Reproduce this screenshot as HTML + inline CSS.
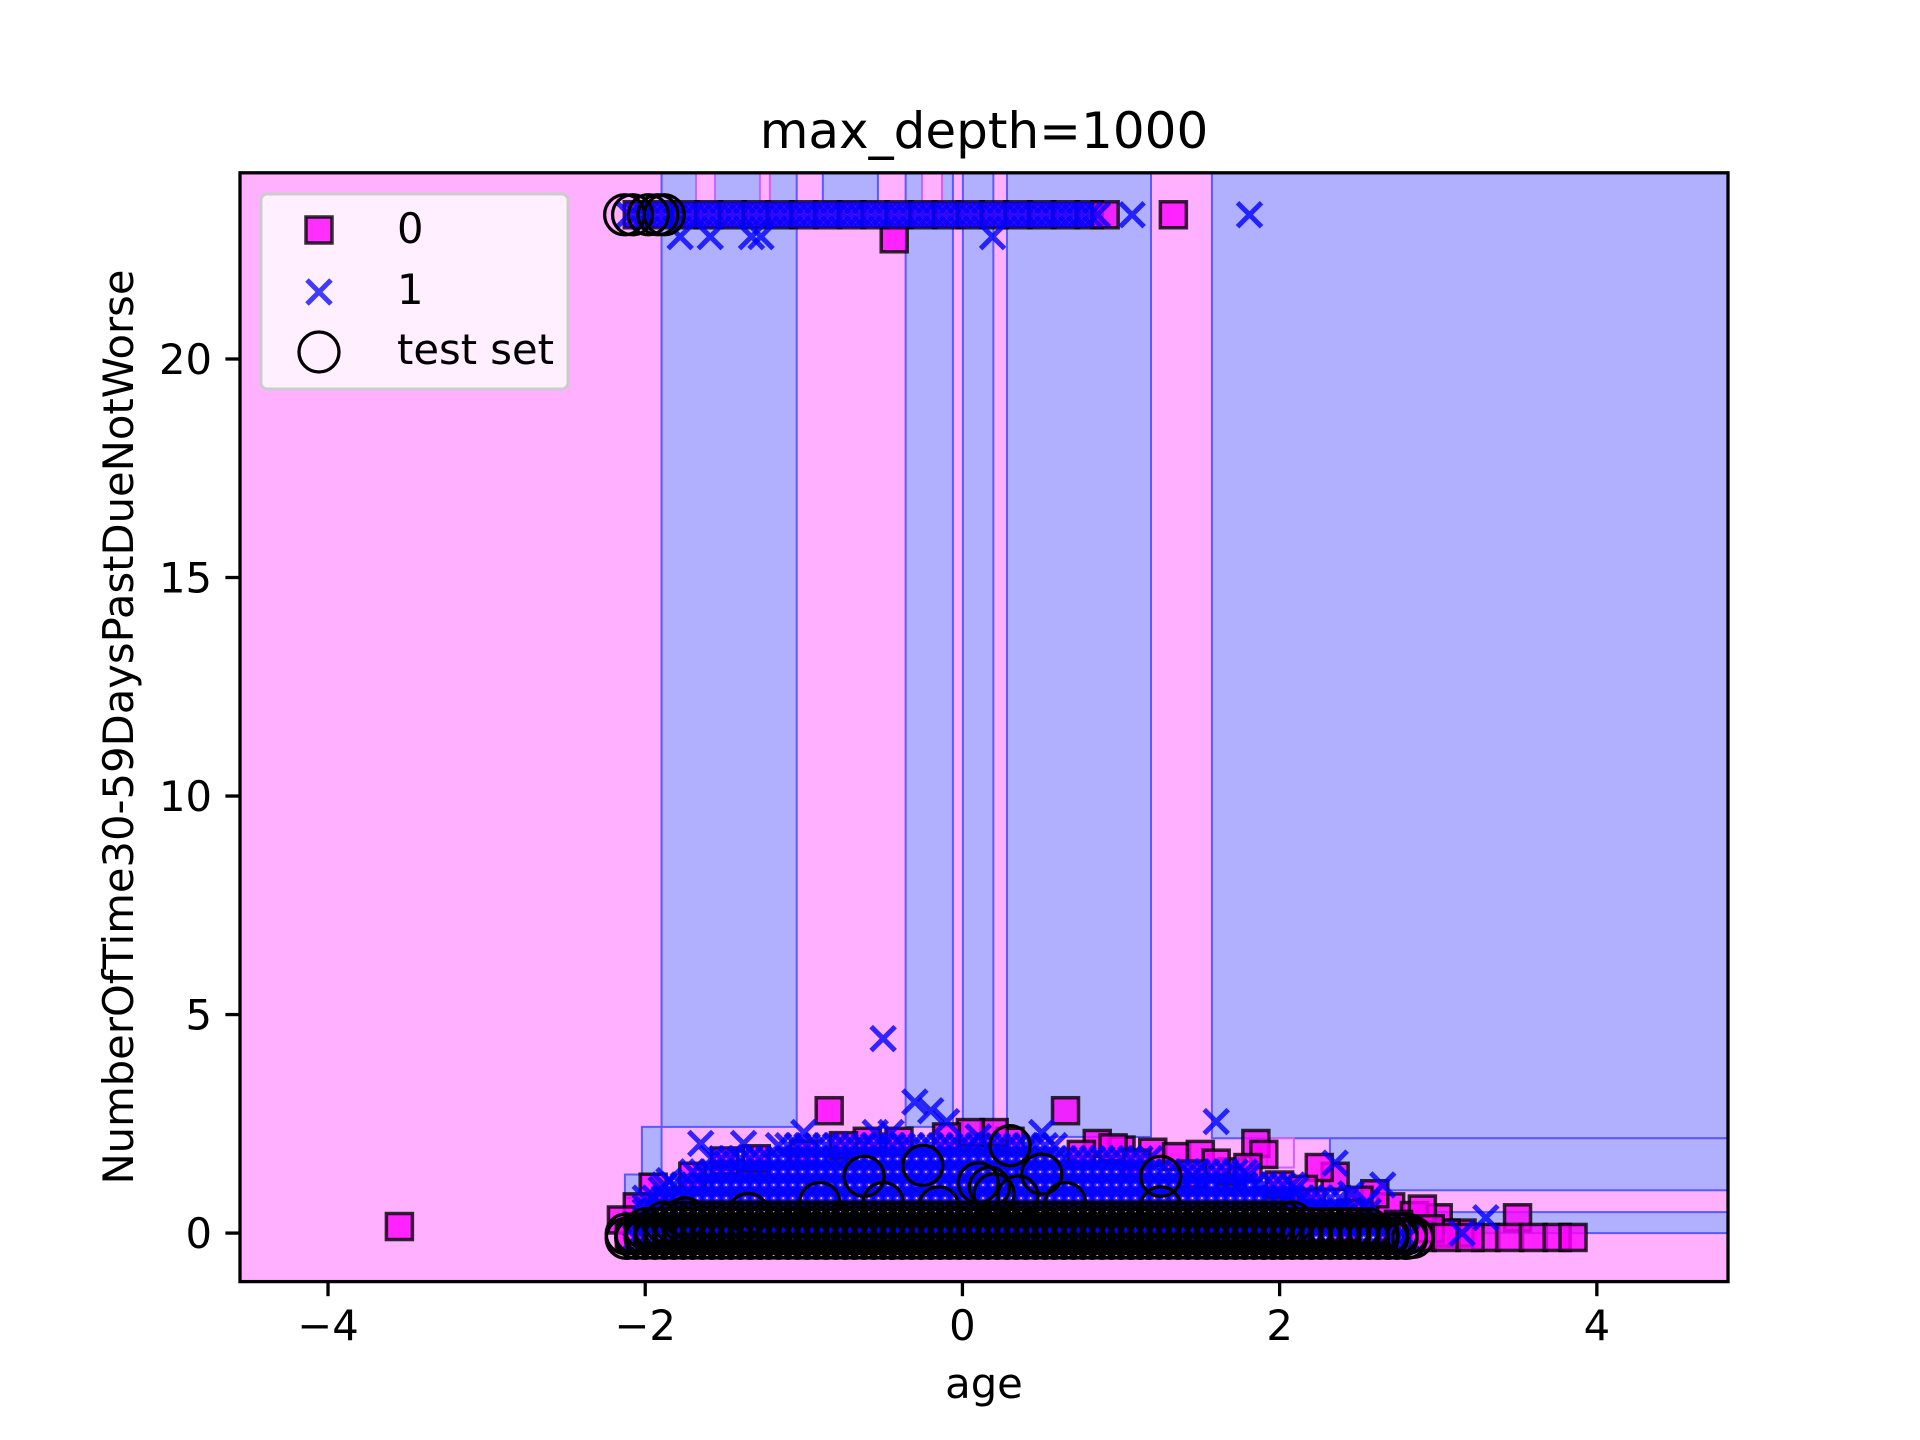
<!DOCTYPE html>
<html><head><meta charset="utf-8"><style>
html,body{margin:0;padding:0;background:#fff;}
svg{display:block;font-family:"DejaVu Sans","Liberation Sans",sans-serif;}
</style></head><body>
<svg id="chart" width="1920" height="1440" viewBox="0 0 1920 1440" xmlns="http://www.w3.org/2000/svg">
<defs><clipPath id="axclip"><rect x="240" y="172.8" width="1488" height="1108.8"/></clipPath></defs>
<rect width="1920" height="1440" fill="#fff"/>
<text x="984" y="148" text-anchor="middle" font-size="50" fill="#000">max_depth=1000</text>
<g id="plot" clip-path="url(#axclip)"></g>
<rect x="240" y="172.8" width="1488" height="1108.8" fill="none" stroke="#000" stroke-width="3.3"/>
<g id="ticks"></g>
<text x="984" y="1398" text-anchor="middle" font-size="41.7" fill="#000">age</text>
<text transform="translate(133,727) rotate(-90)" text-anchor="middle" font-size="41.7" fill="#000">NumberOfTime30-59DaysPastDueNotWorse</text>
<g>
<rect x="261" y="194" width="307" height="195" rx="6" fill="#fff" fill-opacity="0.8" stroke="#ccc" stroke-width="3"/>
<rect x="306" y="217" width="26" height="26" fill="#ff00ff" fill-opacity="0.8" stroke="#000" stroke-opacity="0.8" stroke-width="3.5"/>
<text x="397" y="243" font-size="41.7" fill="#000">0</text>
<path d="M307,280 L331,304 M331,280 L307,304" stroke="#0000ff" stroke-opacity="0.75" stroke-width="5"/>
<text x="397" y="304" font-size="41.7" fill="#000">1</text>
<circle cx="319" cy="352" r="20" fill="none" stroke="#000" stroke-width="3.3"/>
<text x="397" y="364" font-size="41.7" fill="#000">test set</text>
</g>
</svg>
<script>
const xTicks = [-4, -2, 0, 2, 4];
const xTickLabels = ["\u22124", "\u22122", "0", "2", "4"];
const yTicks = [0, 5, 10, 15, 20];
const yTickLabels = ["0", "5", "10", "15", "20"];
const xDomain = [-4.555, 4.827];
const yDomain = [-1.11, 24.26];
const blueRegions = [
 [-1.897,-1.045,2.43,25],[-2.021,-1.897,1.34,2.43],[-2.128,-2.021,0.8,1.34],
 [-0.880,-0.533,23.6,25],[-0.358,-0.060,2.43,25],[0.003,0.195,2.2,25],
 [0.281,1.189,2.2,25],[1.573,5,2.17,25],[2.317,5,0.98,2.17],[2.40,5,0.0,0.48]
];
const pinkRegions = [
 [-1.68,-1.56,23.6,25],[-1.277,-1.214,23.6,25],[-0.255,-0.129,23.6,25],[1.92,2.09,1.5,2.17]
];
const class0 = [
 [-3.55,0.15],[-0.43,22.75],[1.33,23.3],
 [-2.05,23.3],[-1.9,23.3],[-1.75,23.3],[-1.6,23.3],[-1.45,23.3],[-1.3,23.3],[-1.15,23.3],[-1.0,23.3],[-0.85,23.3],[-0.7,23.3],[-0.55,23.3],[-0.4,23.3],[-0.25,23.3],[-0.1,23.3],[0.05,23.3],[0.2,23.3],[0.35,23.3],[0.5,23.3],[0.65,23.3],[0.8,23.3],[0.9,23.3],
 [-0.84,2.8],[0.65,2.8],[1.85,2.05],[1.9,1.8],[3.5,0.35],[3.0,0.35],[3.15,0.0],[3.3,-0.1],[3.45,-0.1],[3.6,-0.1],[3.75,-0.1],[3.85,-0.1],
 [2.7,0.6],[2.85,0.4],[2.6,0.9],[2.35,1.3],[2.25,1.5],[1.2,1.85],[1.35,1.75],[1.5,1.8],[1.0,1.9],[0.85,2.05],[0.95,1.95],[0.3,2.1],[0.2,2.3],[0.05,2.3],
 [-0.1,2.2],[-0.6,2.1],[-0.4,2.1],[-1.0,1.8],[-1.3,1.7],[-1.5,1.65],[-1.7,1.3],[-1.95,1.05],[-2.05,0.6],[-2.15,0.3],[-0.75,2.0],[1.7,1.4],[2.0,1.1],
 [2.5,0.75],[2.9,0.55],[1.6,1.6],[1.8,1.5],[2.15,1.0],[2.75,0.2],[3.05,0.0],[2.95,0.1],[2.45,0.45],[2.2,0.7],[1.45,1.35],[1.1,1.6],[0.75,1.8],
 [-2.1,-0.1],[-1.8,-0.1],[-1.5,-0.1],[-1.2,-0.1],[-0.9,-0.1],[-0.6,-0.1],[-0.3,-0.1],[0.0,-0.1],[0.3,-0.1],[0.6,-0.1],[0.9,-0.1],[1.2,-0.1],[1.5,-0.1],[1.8,-0.1],[2.1,-0.1],[2.4,-0.1],[2.7,-0.1],[2.9,-0.1],[3.05,-0.1],[3.2,-0.1]
];
const class1 = [
 [-2.10,23.3],[-2.05,23.3],[-2.00,23.3],[-1.95,23.3],[-1.90,23.3],[-1.85,23.3],[-1.80,23.3],[-1.75,23.3],[-1.70,23.3],[-1.65,23.3],[-1.60,23.3],[-1.55,23.3],[-1.50,23.3],[-1.45,23.3],[-1.40,23.3],[-1.35,23.3],[-1.30,23.3],[-1.25,23.3],[-1.20,23.3],[-1.15,23.3],[-1.10,23.3],[-1.05,23.3],[-1.00,23.3],[-0.95,23.3],[-0.90,23.3],[-0.85,23.3],[-0.80,23.3],[-0.75,23.3],[-0.70,23.3],[-0.65,23.3],[-0.60,23.3],[-0.55,23.3],[-0.50,23.3],[-0.45,23.3],[-0.40,23.3],[-0.35,23.3],[-0.30,23.3],[-0.25,23.3],[-0.20,23.3],[-0.15,23.3],[-0.10,23.3],[-0.05,23.3],[0.00,23.3],[0.05,23.3],[0.10,23.3],[0.15,23.3],[0.20,23.3],[0.25,23.3],[0.30,23.3],[0.35,23.3],[0.40,23.3],[0.45,23.3],[0.50,23.3],[0.55,23.3],[0.60,23.3],[0.65,23.3],[0.70,23.3],[0.75,23.3],[0.80,23.3],[0.85,23.3],[1.07,23.3],[1.81,23.3],
 [-1.78,22.8],[-1.59,22.8],[-1.33,22.8],[-1.27,22.8],[0.19,22.8],
 [-0.5,4.45],[-0.3,3.0],[-0.2,2.8],[-0.1,2.55],[1.6,2.55],[-1.65,2.05],[-1.38,2.05],[-1.0,2.3],[-0.55,2.3],[-0.45,2.3],[0.1,2.2],[0.5,2.3],[2.35,1.6],[2.65,1.1],[3.3,0.35],[3.15,0.0],
 [1.45,1.3],[1.8,1.3],[2.1,1.0],[2.45,0.9],[2.55,0.7],[-1.85,1.2],[-1.9,1.0],[-2.0,0.6]
];
// dense cloud of class-1 points near zero: shared age grid, rows with value and age range
const cloudAges = [-2.12,-2.06,-2.00,-1.94,-1.88,-1.82,-1.76,-1.70,-1.64,-1.58,-1.52,-1.46,-1.40,-1.34,-1.28,-1.22,-1.16,-1.10,-1.04,-0.98,-0.92,-0.86,-0.80,-0.74,-0.68,-0.62,-0.56,-0.50,-0.44,-0.38,-0.32,-0.26,-0.20,-0.14,-0.08,-0.02,0.04,0.10,0.16,0.22,0.28,0.34,0.40,0.46,0.52,0.58,0.64,0.70,0.76,0.82,0.88,0.94,1.00,1.06,1.12,1.18,1.24,1.30,1.36,1.42,1.48,1.54,1.60,1.66,1.72,1.78,1.84,1.90,1.96,2.02,2.08,2.14,2.20,2.26,2.32,2.38,2.44,2.50,2.56,2.62,2.68,2.74,2.80];
const class1RowVals = [-0.1, 0.2, 0.5, 0.8, 1.1, 1.4, 1.7, 2.0];
const class1RowMin  = [-2.1, -2.1, -2.05, -2.0, -1.9, -1.75, -1.6, -1.2];
const class1RowMax  = [2.8, 2.7, 2.6, 2.4, 2.1, 1.8, 1.2, 0.6];
const testRowVals = [-0.12, -0.02, 0.1, 0.25];
const testRowMin  = [-2.12, -2.12, -2.0, -1.9];
const testRowMax  = [2.84, 2.8, 2.6, 2.1];
const testSet = [
 [-2.13,23.3],[-2.08,23.3],[-1.98,23.3],[-1.92,23.3],[-1.88,23.3],
 [-0.62,1.3],[-0.25,1.55],[0.1,1.15],[0.17,1.05],[0.3,2.0],[0.5,1.35],[1.25,1.3],[0.65,0.7],[-0.9,0.7],[-0.5,0.7],[0.2,0.9],[0.35,0.85],[-0.15,0.6],[1.25,0.6],[-1.75,0.35],[-1.35,0.45],[2.84,-0.1]
];
const NS = "http://www.w3.org/2000/svg";
function xs(a){ return 240 + (a - xDomain[0]) / (xDomain[1] - xDomain[0]) * 1488; }
function ys(v){ return 1281.6 - (v - yDomain[0]) / (yDomain[1] - yDomain[0]) * 1108.8; }
function mk(tag, attrs){ const e = document.createElementNS(NS, tag); for (const k in attrs) e.setAttribute(k, attrs[k]); return e; }
const plot = document.getElementById('plot');
const bg = mk('rect', {x:240, y:172.8, width:1488, height:1108.8, fill:'#ffb0ff'});


plot.appendChild(bg);
blueRegions.forEach(r => {
  const e = mk('rect', {x:xs(r[0]), y:ys(r[3]), width:xs(r[1])-xs(r[0]), height:ys(r[2])-ys(r[3]), fill:'#b0b0ff', stroke:'#5a5aff', 'stroke-width':2});
  
  
  plot.appendChild(e);
});
pinkRegions.forEach(r => {
  const e = mk('rect', {x:xs(r[0]), y:ys(r[3]), width:xs(r[1])-xs(r[0]), height:ys(r[2])-ys(r[3]), fill:'#ffb0ff', stroke:'#d060ff', 'stroke-width':2});
  
  
  plot.appendChild(e);
});
class0.forEach(p => {
  const e = mk('rect', {x:xs(p[0])-13, y:ys(p[1])-13, width:26, height:26, fill:'#ff00ff', 'fill-opacity':0.8, stroke:'#000', 'stroke-opacity':0.8, 'stroke-width':3.5});
  
  
  plot.appendChild(e);
});
function drawX(a, v){
  const cx = xs(a), cy = ys(v);
  const e = mk('path', {d:`M${cx-12},${cy-12} L${cx+12},${cy+12} M${cx+12},${cy-12} L${cx-12},${cy+12}`, stroke:'#0000ff', 'stroke-opacity':0.8, 'stroke-width':5});
  
  
  plot.appendChild(e);
}
class1.forEach(p => drawX(p[0], p[1]));
class1RowVals.forEach((v, i) => {
  cloudAges.forEach(a => { if (a >= class1RowMin[i] && a <= class1RowMax[i]) drawX(a, v); });
});
function drawC(a, v){
  const e = mk('circle', {cx:xs(a), cy:ys(v), r:20, fill:'none', stroke:'#000', 'stroke-width':3.3});
  
  
  plot.appendChild(e);
}
testRowVals.forEach((v, i) => {
  cloudAges.forEach(a => { if (a >= testRowMin[i] && a <= testRowMax[i]) drawC(a, v); });
});
testSet.forEach(p => drawC(p[0], p[1]));
const ticks = document.getElementById('ticks');
xTicks.forEach((t, i) => {
  const x = xs(t);
  const l = mk('line', {x1:x, x2:x, y1:1281.6, y2:1296.2, stroke:'#000', 'stroke-width':3.3});
  
  
  ticks.appendChild(l);
  const tx = mk('text', {x:x, y:1340, 'text-anchor':'middle', 'font-size':41.7, fill:'#000'});
  tx.textContent = xTickLabels[i];
  
  
  ticks.appendChild(tx);
});
yTicks.forEach((t, i) => {
  const y = ys(t);
  const l = mk('line', {x1:225.4, x2:240, y1:y, y2:y, stroke:'#000', 'stroke-width':3.3});
  
  
  ticks.appendChild(l);
  const tx = mk('text', {x:212, y:y+15, 'text-anchor':'end', 'font-size':41.7, fill:'#000'});
  tx.textContent = yTickLabels[i];
  
  
  ticks.appendChild(tx);
});
</script>
</body></html>
